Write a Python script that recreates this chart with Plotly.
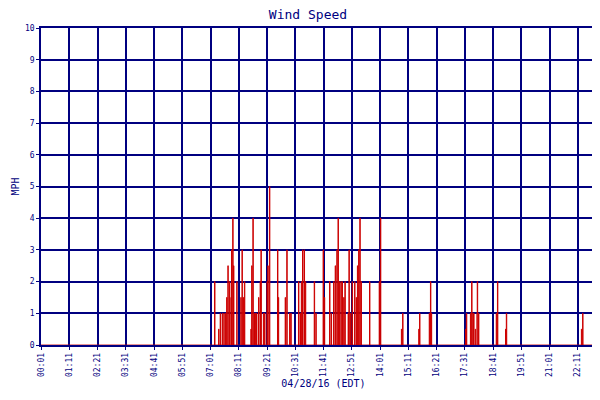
import plotly.graph_objects as go

spike_minutes = [431,441,445,450,454,458,461,464,468,469,473,476,478,486,496,499,502,505,
                 521,523,526,529,532,535,540,544,546,552,555,561,563,567,587,589,606,610,617,620,
                 639,643,646,649,653,656,678,682,700,703,716,720,726,730,734,737,740,744,747,751,754,
                 762,764,768,772,778,782,785,788,791,794,815,839,842,
                 894,897,937,939,963,966,968,1053,1055,1065,1068,1071,1073,1077,1081,1082,1085,
                 1129,1132,1152,1154,1340,1343]
spike_speeds = [2,0.5,1,1,1,1,1.5,2.5,2,1.5,3,4,2.5,2,1.5,3,1.5,2,
                0.5,2.5,4,1,1,1,1.5,2,3,1,1,2,2.5,5,3,1.5,1.5,3,1,1,
                2,1,2,3,3,2,2,1,3,1.5,2,1,2,2.5,3,4,2,2,2,1.5,2,
                1,3,1,2,2,1.5,2.5,3,4,2,2,2,4,
                0.5,1,0.5,1,1,2,1,0.5,1,1,2,1,1,0.5,1,2,1,
                1,2,0.5,1,0.5,1]
tick_minutes = list(range(1, 1402, 70))
tick_labels = ["00:01","01:11","02:21","03:31","04:41","05:51","07:01","08:11","09:21","10:31",
               "11:41","12:51","14:01","15:11","16:21","17:31","18:41","19:51","21:01","22:11","23:59"]

y = [0.0] * 1441
for m, v in zip(spike_minutes, spike_speeds):
    y[m] = max(y[m], v)
x = list(range(1441))

navy = "#000080"
font = "DejaVu Sans Mono"
fig = go.Figure(go.Scatter(x=x, y=y, mode="lines", line=dict(color="#cc0000", width=1, shape="hv"),
                           name="Wind Speed"))
fig.update_layout(
    width=600, height=400, margin=dict(l=33, r=2, t=20, b=63, autoexpand=False),
    paper_bgcolor="white", plot_bgcolor="white",
    title=dict(text="Wind Speed", x=0.5, y=0.995, xanchor="center", yanchor="top",
               font=dict(family=font, size=13, color=navy)),
    font=dict(family=font, size=9, color=navy),
    showlegend=True,
    legend=dict(orientation="h", x=0.55, xanchor="center", y=-0.16, yanchor="top",
                font=dict(size=8, color=navy)),
)
fig.update_xaxes(range=[1, 1401], tickvals=tick_minutes, ticktext=tick_labels, tickangle=-90,
                 automargin=False,
                 showgrid=True, gridcolor=navy, gridwidth=1.5, showline=True, linecolor=navy,
                 mirror=True, linewidth=1.5, zeroline=False, ticks="outside", tickcolor=navy,
                 ticklen=3, tickfont=dict(size=8),
                 title=dict(text="04/28/16 (EDT)", font=dict(size=10), standoff=4))
fig.update_yaxes(range=[0, 10], dtick=1, showgrid=True, gridcolor=navy, gridwidth=1.5,
                 automargin=False,
                 showline=True, linecolor=navy, mirror=True, linewidth=1.5, zeroline=False,
                 ticks="outside", tickcolor=navy, ticklen=3, tickfont=dict(size=8),
                 title=dict(text="MPH", font=dict(size=10), standoff=4))
fig.write_html("out.html")
